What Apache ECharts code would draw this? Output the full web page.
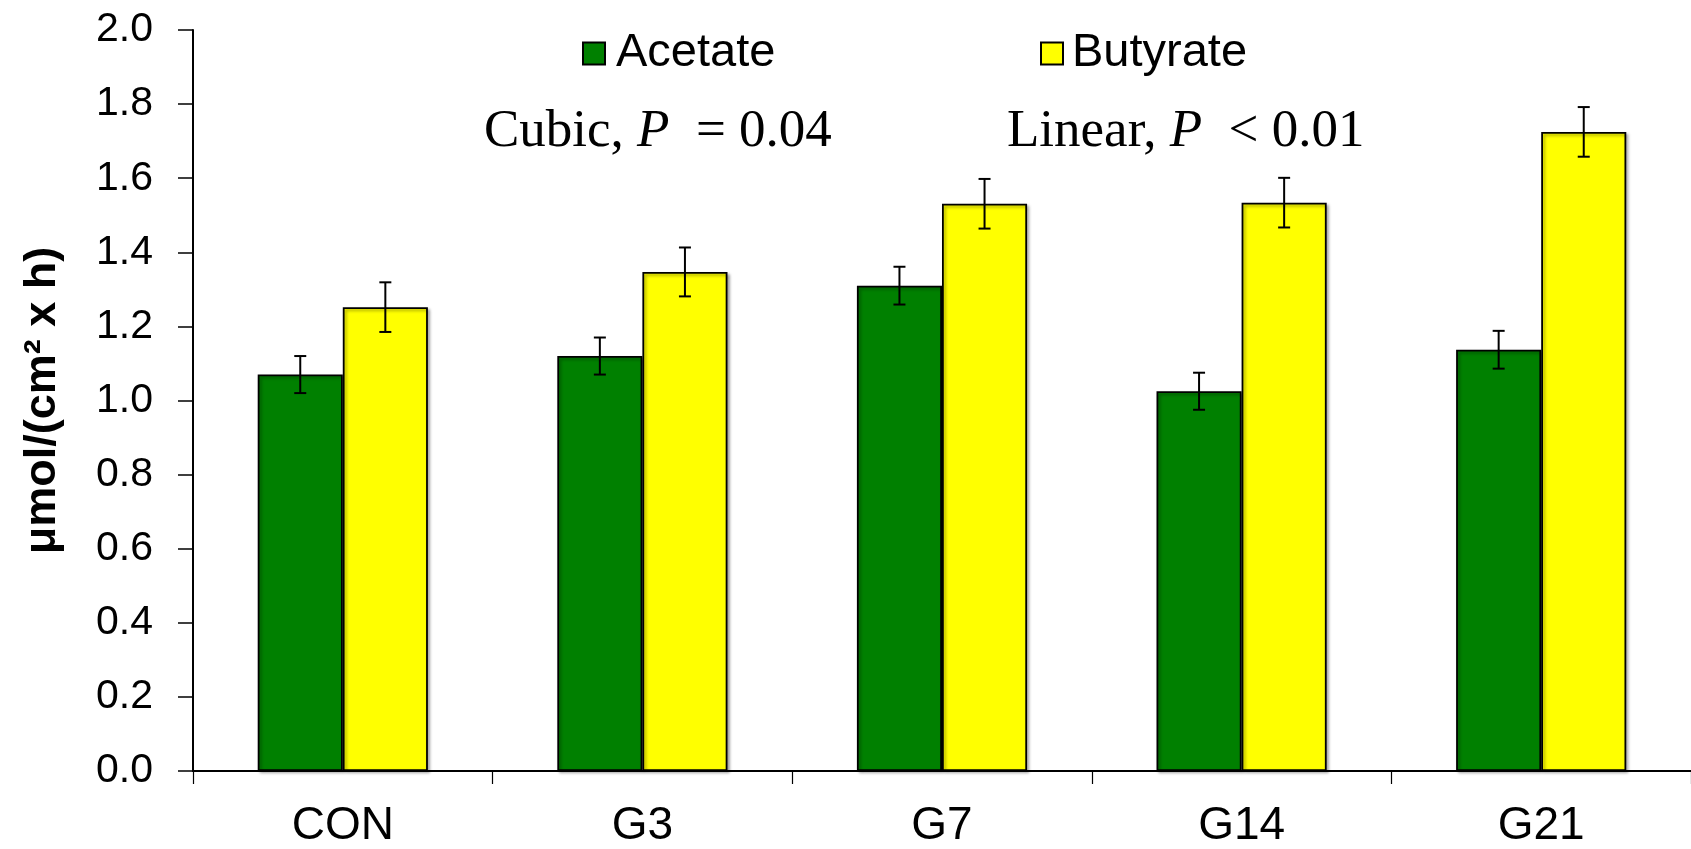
<!DOCTYPE html>
<html>
<head>
<meta charset="utf-8">
<script src="https://cdn.jsdelivr.net/npm/echarts@6/dist/echarts.min.js"></script>
<style>
html,body{margin:0;padding:0;background:#fff;}
#c{width:1691px;height:849px;}
</style>
</head>
<body>
<div id="c"></div>
<script>
var categories = ['CON', 'G3', 'G7', 'G14', 'G21'];
var acetate = [1.07, 1.12, 1.31, 1.025, 1.137];
var acetateErr = [0.05, 0.05, 0.051, 0.05, 0.051];
var butyrate = [1.252, 1.347, 1.531, 1.534, 1.725];
var butyrateErr = [0.067, 0.066, 0.067, 0.067, 0.067];
var yTicks = [0, 0.2, 0.4, 0.6, 0.8, 1.0, 1.2, 1.4, 1.6, 1.8, 2.0];

var BAR_FRAC = 0.284;

function errorSeries(name, vals, errs, side) {
  return {
    type: 'custom',
    name: name + ' SE',
    silent: true,
    z: 10,
    data: vals.map(function (v, i) { return [i, v, errs[i]]; }),
    encode: { x: 0, y: 1 },
    renderItem: function (params, api) {
      var i = api.value(0), v = api.value(1), e = api.value(2);
      var band = api.size([1, 0])[0];
      var bw = band * BAR_FRAC;
      var c = api.coord([i, v]);
      var x = c[0] + side * bw / 2;
      var top = api.coord([i, v + e])[1];
      var bot = api.coord([i, v - e])[1];
      var hw = 6;
      var st = { stroke: '#000', lineWidth: 2 };
      return {
        type: 'group',
        children: [
          { type: 'line', shape: { x1: x, y1: top, x2: x, y2: bot }, style: st },
          { type: 'line', shape: { x1: x - hw, y1: top, x2: x + hw, y2: top }, style: st },
          { type: 'line', shape: { x1: x - hw, y1: bot, x2: x + hw, y2: bot }, style: st }
        ]
      };
    }
  };
}

var chart = echarts.init(document.getElementById('c'));
var barStyleBase = {
  borderColor: '#000',
  borderWidth: 1.8,
  shadowColor: 'rgba(0,0,0,0.35)',
  shadowBlur: 3,
  shadowOffsetX: 2,
  shadowOffsetY: 2
};
chart.setOption({
  backgroundColor: '#fff',
  animation: false,
  grid: { left: 193, top: 30, bottom: 77, right: -9.5, containLabel: false },
  legend: [
    {
      data: ['Acetate'], left: 582, top: 30, itemWidth: 22, itemHeight: 22, padding: 0,
      icon: 'rect', selectedMode: false,
      textStyle: { fontFamily: 'Liberation Sans', fontSize: 47, color: '#000', padding: [0, 0, 0, 6] }
    },
    {
      data: ['Butyrate'], left: 1040, top: 30, itemWidth: 22, itemHeight: 22, padding: 0,
      icon: 'rect', selectedMode: false,
      textStyle: { fontFamily: 'Liberation Sans', fontSize: 47, color: '#000', padding: [0, 0, 0, 4] }
    }
  ],
  xAxis: {
    type: 'category',
    data: categories,
    axisLine: { lineStyle: { color: '#000', width: 2 } },
    axisTick: { show: true, length: 13, lineStyle: { color: '#000', width: 1.2 } },
    axisLabel: { color: '#000', fontFamily: 'Liberation Sans', fontSize: 46, margin: 32 },
    splitLine: { show: false }
  },
  yAxis: {
    type: 'value',
    min: 0, max: 2, interval: 0.2,
    name: 'μmol/(cm² x h)',
    nameLocation: 'middle',
    nameGap: 128,
    nameTextStyle: { fontFamily: 'Liberation Sans', fontWeight: 'bold', fontSize: 45, color: '#000' },
    axisLine: { show: true, lineStyle: { color: '#000', width: 2 } },
    axisTick: { show: true, length: 15, lineStyle: { color: '#000', width: 1.5 } },
    axisLabel: {
      color: '#000', fontFamily: 'Liberation Sans', fontSize: 41, margin: 40,
      formatter: function (v) { return v.toFixed(1); }
    },
    splitLine: { show: false }
  },
  graphic: [
    {
      type: 'text', left: 484, top: 106,
      style: {
        text: 'Cubic, {i|P}  = 0.04',
        font: '53px "Liberation Serif"', fill: '#000',
        rich: { i: { fontStyle: 'italic', fontSize: 53, fontFamily: 'Liberation Serif' } }
      }
    },
    {
      type: 'text', left: 1007, top: 106,
      style: {
        text: 'Linear, {i|P}  < 0.01',
        font: '53px "Liberation Serif"', fill: '#000',
        rich: { i: { fontStyle: 'italic', fontSize: 53, fontFamily: 'Liberation Serif' } }
      }
    }
  ],
  series: [
    {
      name: 'Acetate', type: 'bar', data: acetate,
      barWidth: (BAR_FRAC * 100) + '%', barGap: '0%',
      itemStyle: Object.assign({ color: '#008000' }, barStyleBase)
    },
    {
      name: 'Butyrate', type: 'bar', data: butyrate,
      barWidth: (BAR_FRAC * 100) + '%', barGap: '0%',
      itemStyle: Object.assign({ color: '#FFFF00' }, barStyleBase)
    },
    errorSeries('Acetate', acetate, acetateErr, -1),
    errorSeries('Butyrate', butyrate, butyrateErr, 1)
  ]
});
</script>
</body>
</html>
